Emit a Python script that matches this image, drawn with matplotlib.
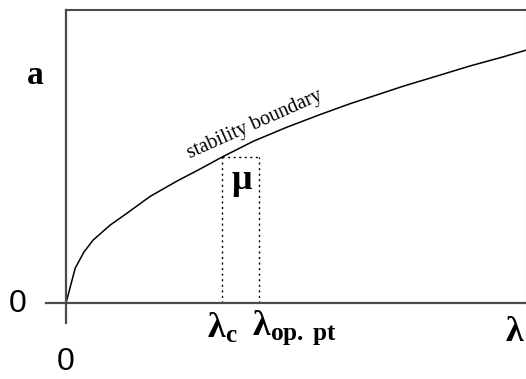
import matplotlib
matplotlib.use("Agg")
from matplotlib import pyplot as plt

plt.rcParams['mathtext.fontset'] = 'custom'
plt.rcParams['mathtext.rm'] = 'Liberation Serif'
plt.rcParams['mathtext.bf'] = 'Liberation Serif:bold'
plt.rcParams['mathtext.it'] = 'Liberation Serif:italic'

# stability boundary (lambda, a)
lam = [0, 0.020, 0.039, 0.059, 0.096, 0.133, 0.183, 0.241, 0.291, 0.339,
       0.407, 0.480, 0.552, 0.617, 0.683, 0.733, 0.807, 0.878, 0.950, 1.0]
a_vals = [0, 0.119, 0.174, 0.215, 0.266, 0.307, 0.364, 0.416, 0.457, 0.498,
          0.552, 0.600, 0.643, 0.680, 0.714, 0.740, 0.775, 0.809, 0.840, 0.863]

lam_c = 0.339
lam_op = 0.420
a_box = 0.498

fig = plt.figure(figsize=(5.26, 3.79), dpi=100)
ax = fig.add_axes([0.1255, 0.2005, 0.8745, 0.773])
ax.set_xlim(0, 1)
ax.set_ylim(0, 1)
ax.set_xticks([])
ax.set_yticks([])

axis_col = '#4a4a4a'
ax.spines['left'].set_visible(False)
ax.spines['bottom'].set_visible(False)
ax.spines['top'].set_color(axis_col)
ax.spines['top'].set_linewidth(1.5)
ax.spines['right'].set_color('#c8c8c8')
ax.spines['right'].set_linewidth(0.8)

# axes drawn a bit past the origin
ax.plot([0, 0], [-0.068, 1], color=axis_col, lw=1.6, clip_on=False, zorder=3)
ax.plot([-0.043, 1], [0, 0], color=axis_col, lw=1.6, clip_on=False, zorder=3)

ax.plot(lam, a_vals, color='black', lw=1.1, clip_on=False)

# dotted box for mu
ax.plot([lam_c, lam_c], [0, a_box], color='black', lw=1.0, ls=(0, (1.5, 2.5)))
ax.plot([lam_op, lam_op], [0, a_box], color='black', lw=1.0, ls=(0, (1.5, 2.5)))
ax.plot([lam_c, lam_op], [a_box, a_box], color='black', lw=1.0, ls=(0, (1.5, 2.5)))

ax.text(0.410, 0.610, 'stability boundary', family='Liberation Serif', fontsize=14.5,
        rotation=24, ha='center', va='center')
ax.text(0.383, 0.413, r'$\mathbf{\mu}$', fontsize=26, ha='center', va='center')
ax.text(-0.067, 0.775, 'a', family='Liberation Serif', weight='bold', fontsize=24,
        ha='center', va='center', clip_on=False)

ax.text(-0.105, -0.003, '0', family='Liberation Sans', fontsize=23, ha='center', va='center')
ax.text(0, -0.201, '0', family='Liberation Sans', fontsize=23, ha='center', va='center')
ax.text(lam_c, -0.085, r'$\mathbf{\lambda}_{\mathbf{c}}$', fontsize=26, ha='center', va='center')
ax.text(0.496, -0.085, r'$\mathbf{\lambda}_{\mathbf{op.\ pt}}$', fontsize=26, ha='center', va='center')
ax.text(0.976, -0.096, r'$\mathbf{\lambda}$', fontsize=26, ha='center', va='center')

fig.savefig('out.png', dpi=100)
